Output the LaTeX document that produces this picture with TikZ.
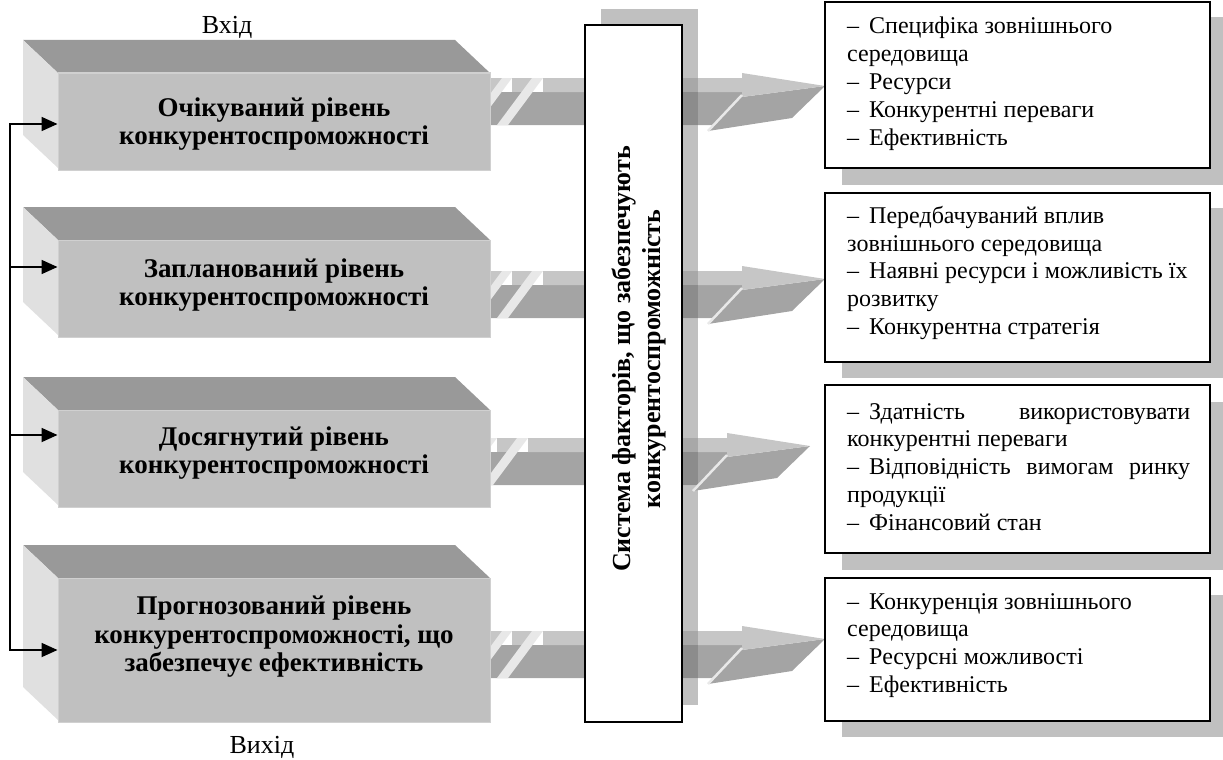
\documentclass[tikz,border=0pt]{standalone}
\usepackage{fontspec}
\setmainfont{Liberation Serif}
\usetikzlibrary{arrows.meta}
\definecolor{bxfront}{HTML}{C0C0C0}
\definecolor{bxtop}{HTML}{999999}
\definecolor{bxleft}{HTML}{E0E0E0}
\definecolor{bxedge}{HTML}{D0D0D0}
\definecolor{arlight}{HTML}{C6C6C6}
\definecolor{ardark}{HTML}{A4A4A4}
\definecolor{arslash}{HTML}{E8E8E8}
\definecolor{ovlight}{HTML}{A8A8A8}
\definecolor{ovdark}{HTML}{8C8C8C}
\definecolor{shad}{HTML}{C0C0C0}
\newcommand\dsh{–\hspace{10pt}}
\tikzset{
  boxfront/.style={fill=bxfront, draw=bxedge, line width=1pt, inner sep=0pt},
  lvltext/.style={font=\bfseries\fontsize{27}{28.5}\selectfont, align=center, inner sep=0pt},
  rbox/.style={draw=black, line width=1.8pt, fill=white, inner sep=0pt},
  rtext/.style={font=\fontsize{24}{27.8}\selectfont, align=left, anchor=north west, inner sep=0pt},
  plain/.style={font=\fontsize{26}{28}\selectfont, inner sep=0pt},
  busline/.style={line width=1.8pt},
}
% row arrow: #1 = y of top of shaft, #2 = horizontal shift
\newcommand\rowarrow[2]{%
  \begin{scope}[xshift=#2pt]
    \fill[ardark] (455,#1+14) -- (742,#1+14) -- (742,#1+19) -- (825,#1+8)
      -- (792,#1+40) -- (708,#1+53) -- (714,#1+47) -- (455,#1+47) -- cycle;
    \fill[arlight] (455,#1) rectangle (502,#1+14);
    \fill[arlight] (512,#1) rectangle (532,#1+14);
    \fill[arlight] (543,#1) -- (742,#1) -- (742,#1-5) -- (825,#1+8)
      -- (742,#1+19) -- (742,#1+14) -- (543,#1+14) -- cycle;
    \fill[arslash] (502,#1) -- (512,#1) -- (477,#1+47) -- (467,#1+47) -- cycle;
    \fill[arslash] (532,#1) -- (543,#1) -- (508,#1+47) -- (497,#1+47) -- cycle;
  \end{scope}
  \fill[ovlight] (682,#1) rectangle (698,#1+14);
  \fill[ovdark] (682,#1+14) rectangle (698,#1+47);
  \begin{scope}[xshift=#2pt]
    \draw[arslash, line width=2.5pt] (708,#1+53) -- (742,#1+17);
  \end{scope}
}
% 3D level box: #1 name, #2 front top, #3 front bottom
\newcommand\levelbox[3]{%
  \fill[bxtop] (23,#2-33) -- (455,#2-33) -- (490,#2) -- (58,#2) -- cycle;
  \fill[bxleft] (23,#2-33) -- (58,#2) -- (58,#3-2) -- (23,#3-35) -- cycle;
  \node[boxfront, minimum width=432pt, minimum height={#3-#2}] (#1) at (274,{(#2+#3)/2}) {};
}
\begin{document}
\begin{tikzpicture}[x=1pt,y=-1pt]
\useasboundingbox (0,0) rectangle (1223,760);
% shadows
\fill[shad] (601,9) rectangle (698,705);
\fill[shad] (842,17) rectangle (1227,185);
\fill[shad] (842,208) rectangle (1227,378);
\fill[shad] (842,402) rectangle (1227,570);
\fill[shad] (842,595) rectangle (1227,737);
% arrows
\rowarrow{78}{0}
\rowarrow{271}{0}
\rowarrow{438}{-15}
\rowarrow{631}{0}
% level boxes
\levelbox{b1}{73}{170}
\levelbox{b2}{240}{337}
\levelbox{b3}{410}{507}
\levelbox{b4}{578}{722}
\node[lvltext] (t1) at (274,124) {Очікуваний рівень\\конкурентоспроможності};
\node[lvltext] (t2) at (274,285) {Запланований рівень\\конкурентоспроможності};
\node[lvltext] (t3) at (274,453) {Досягнутий рівень\\конкурентоспроможності};
\node[lvltext] (t4) at (274,637) {Прогнозований рівень\\конкурентоспроможності, що\\забезпечує ефективність};
% central box
\node[rbox, minimum width=97pt, minimum height=697pt] (sys) at (633.5,373.5) {};
\node[rotate=90, font=\bfseries\fontsize{26}{30}\selectfont, align=center, inner sep=0pt] (systext) at (639,359)
  {Система факторів, що забезпечують\\конкурентоспроможність};
% right boxes
\node[rbox, minimum width=385pt, minimum height=166pt] (r1) at (1017.5,85) {};
\node[rbox, minimum width=385pt, minimum height=169pt] (r2) at (1017.5,277.5) {};
\node[rbox, minimum width=385pt, minimum height=168pt] (r3) at (1017.5,469) {};
\node[rbox, minimum width=385pt, minimum height=143pt] (r4) at (1017.5,649.5) {};
\node[rtext] (r1t) at (847,17) {\dsh Специфіка зовнішнього\\середовища\\\dsh Ресурси\\\dsh Конкурентні переваги\\\dsh Ефективність};
\node[rtext] (r2t) at (847,206) {\dsh Передбачуваний вплив\\зовнішнього середовища\\\dsh Наявні ресурси і можливість їх\\розвитку\\\dsh Конкурентна стратегія};
\node[rtext] (r3t) at (847,403) {\makebox[343pt][s]{–\hspace{10pt}Здатність використовувати}\\конкурентні переваги\\\makebox[343pt][s]{–\hspace{10pt}Відповідність вимогам ринку}\\продукції\\\dsh Фінансовий стан};
\node[rtext] (r4t) at (847,593) {\dsh Конкуренція зовнішнього\\середовища\\\dsh Ресурсні можливості\\\dsh Ефективність};
% labels
\node[plain] (vhid) at (227,27) {Вхід};
\node[plain] (vyhid) at (262,747) {Вихід};
% feedback bus
\coordinate (j1) at (10,124);
\coordinate (j2) at (10,267);
\coordinate (j3) at (10,435);
\coordinate (j4) at (10,650);
\draw[busline, {Triangle[length=16pt,width=14pt]}-{Triangle[length=16pt,width=14pt]}]
  (j4 -| b4.west) -- (j4) -- (j1) -- (j1 -| b1.west);
\draw[busline, -{Triangle[length=16pt,width=14pt]}] (j2) -- (j2 -| b2.west);
\draw[busline, -{Triangle[length=16pt,width=14pt]}] (j3) -- (j3 -| b3.west);
\end{tikzpicture}
\end{document}
